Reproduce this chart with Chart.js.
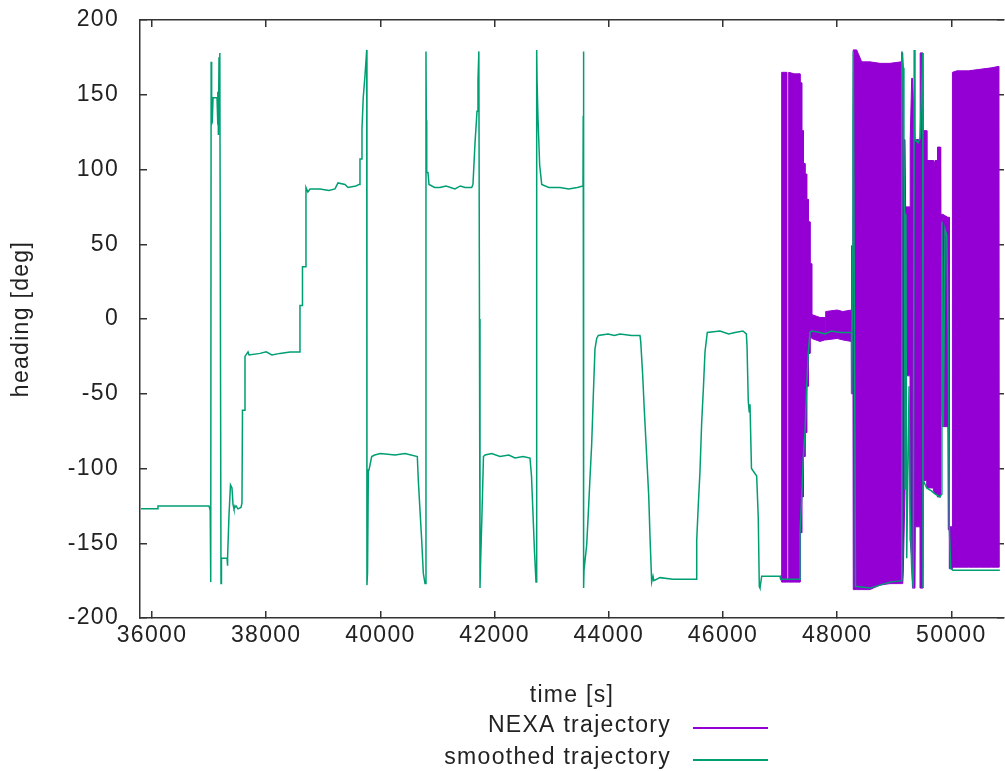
<!DOCTYPE html>
<html>
<head>
<meta charset="utf-8">
<title>heading vs time</title>
<script src="https://cdn.jsdelivr.net/npm/chart.js@4.4.1/dist/chart.umd.min.js"></script>
<style>
  html, body { margin: 0; padding: 0; background: #fff; }
  canvas { display: block; }
</style>
</head>
<body>
<canvas id="graphHeading" width="1005" height="771"></canvas>
<script>
// tick values of both axes
const timeTicks = [36000, 38000, 40000, 42000, 44000, 46000, 48000, 50000];
const headingTicks = [-200, -150, -100, -50, 0, 50, 100, 150, 200];

// smoothed trajectory: time [s] and heading [deg]
const smoothT = [35808, 36105, 36105, 36998, 37020, 37028, 37030, 37036, 37040, 37043, 37046, 37051, 37055, 37069, 37139, 37150, 37156, 37163, 37174, 37185, 37191, 37209, 37217, 37314, 37318, 37331, 37349, 37375, 37401, 37419, 37436, 37471, 37506, 37559, 37576, 37585, 37620, 37629, 37682, 37700, 37892, 38000, 38100, 38242, 38417, 38592, 38592, 38636, 38636, 38697, 38697, 38730, 38768, 38943, 39100, 39205, 39258, 39381, 39433, 39573, 39626, 39643, 39643, 39678, 39678, 39700, 39731, 39761, 39765, 39775, 39790, 39801, 39848, 39900, 40000, 40257, 40432, 40647, 40665, 40694, 40724, 40752, 40782, 40799, 40805, 40812, 40834, 40852, 40950, 41044, 41150, 41307, 41400, 41483, 41600, 41622, 41658, 41693, 41710, 41725, 41736, 41745, 41754, 41780, 41806, 41833, 41950, 42095, 42250, 42358, 42500, 42621, 42647, 42673, 42700, 42726, 42738, 42745, 42761, 42790, 42826, 42950, 43146, 43300, 43450, 43549, 43553, 43558, 43562, 43567, 43614, 43642, 43672, 43701, 43730, 43759, 43789, 43817, 43987, 44100, 44197, 44400, 44547, 44560, 44595, 44623, 44665, 44700, 44723, 44752, 44775, 44790, 44898, 45125, 45541, 45541, 45569, 45598, 45628, 45657, 45686, 45726, 45949, 46100, 46212, 46350, 46410, 46422, 46444, 46460, 46474, 46500, 46591, 46619, 46637, 46649, 46679, 47000, 47010, 47350, 47350, 47380, 47408, 47437, 47467, 47495, 47525, 47555, 47700, 47788, 47900, 48050, 48252, 48256, 48270, 48278, 48283, 48322, 48343, 48576, 48751, 48926, 49119, 49131, 49136, 49159, 49170, 49180, 49189, 49205, 49219, 49260, 49277, 49306, 49334, 49350, 49364, 49420, 49452, 49475, 49481, 49500, 49504, 49510, 49569, 49650, 49714, 49802, 49832, 49835, 49860, 49890, 49920, 49947, 49965, 49990, 50030, 50500, 50850];
const smoothH = [-127, -127, -125, -125, -128, -128, -176, 172, 130, 155, 131, 150, 131, 148, 148, 130, 152, 123, 175, 130, 178, -177, -160, -160, -165, -159, -131, -111, -113, -124, -127, -125, -127, -126, -123, -61, -61, -25, -22, -24, -23, -22, -24, -23, -22, -22, 9, 9, 35, 35, 88, 85, 87, 87, 86, 87, 91, 90, 88, 89, 90, 90, 107, 107, 127, 148, 163, 180, -178, -170, -101, -101, -92, -91, -90, -91, -90, -92, -108, -128, -148, -170, -177, 179, 133, 98, 98, 90, 88, 88, 89, 87, 89, 88, 88, 90, 118, 139, 160, 179, 0, -180, -165, -130, -92, -91, -90, -92, -91, -93, -92, -93, -105, -130, -156, -176, 180, 159, 134, 103, 90, 88, 88, 87, 88, 89, 136, 179, -180, -168, -151, -130, -106, -84, -51, -20, -13, -11, -10, -11, -10, -11, -11, -15, -38, -61, -92, -118, -146, -176, -172, -175, -173, -174, -174, -148, -124, -102, -69, -47, -22, -9, -8, -10, -9, -8, -10, -18, -55, -62, -57, -100, -105, -133, -179, -180, -172, -172, -174, -174, -143, -119, -92, -76, -45, -23, -9, -8, -9, -10, -8, -9, -9, -50, 49, 127, 179, -179, -179, -180, -178, -176, -175, -166, 179, 168, 120, 71, -114, 70, -160, -45, -126, -167, -180, 180, 120, 118, 121, 146, 146, 178, -180, -108, -113, -115, -117, -119, -117, 65, -72, 60, 56, -12, -139, -167, -168, -168, -168];

// NEXA trajectory swings fast between two bounds: upper and lower envelope
const nexaT  = [47000, 47029, 47029, 47117, 47117, 47152, 47152, 47250, 47350, 47350, 47380, 47380, 47408, 47408, 47437, 47437, 47467, 47467, 47495, 47495, 47525, 47525, 47555, 47555, 47700, 47785, 47785, 47800, 47800, 48000, 48100, 48250, 48254, 48278, 48283, 48343, 48431, 48576, 48751, 48926, 49119, 49131, 49150, 49159, 49189, 49200, 49277, 49280, 49306, 49320, 49364, 49370, 49452, 49455, 49504, 49510, 49569, 49572, 49685, 49690, 49714, 49755, 49758, 49810, 49814, 49850, 49940, 49947, 49965, 49968, 50015, 50020, 50100, 50300, 50500, 50700, 50835, 50840];
const nexaHi = [-172, -172, 165, 165, -174, -174, 165, 164, 164, 158, 158, 126, 126, 104, 104, 97, 97, 80, 80, 65, 65, 37, 37, 3, 1, 1, -9, -9, 5, 6, 5, 6, 49, 49, 180, 180, 172, 172, 171, 171, 172, 178, 178, 120, 120, 75, 75, 120, 161, 161, 120, 120, 120, 178, 178, 126, 126, 106, 106, 100, 106, 106, 115, 115, 70, 70, 68, 68, 68, -139, -139, 165, 166, 166, 167, 168, 169, -166];
const nexaLo = [-172, -176, -176, -176, -176, -176, -176, -176, -176, -143, -143, -119, -119, -92, -92, -76, -76, -45, -45, -23, -23, -12, -12, -13, -15, -14, -14, -14, -14, -13, -14, -15, -50, -50, -181, -181, -181, -181, -178, -177, -177, -177, -177, -170, -114, -38, -38, -148, -160, -180, -180, -139, -139, -180, -180, -108, -108, -113, -113, -115, -117, -117, -119, -119, -52, -72, -72, -141, -141, -167, -167, -166, -166, -166, -166, -166, -166, -166];

const legendNames = ['NEXA trajectory', 'smoothed trajectory'];
const legendColors = ['#9400d3', '#009e73'];

// points for Chart.js
const smoothPoints = smoothT.map((t, i) => ({ x: t, y: smoothH[i] }));
// closed shape: upper bound forward, lower bound back
const nexaPoints = nexaT.map((t, i) => ({ x: t, y: nexaHi[i] }))
  .concat(nexaT.map((t, i) => ({ x: t, y: nexaLo[i] })).reverse());

const textColor = '#222';
const frameColor = '#333';
const fontSize = 23;

function spacing(chart) {
  // gnuplot text is a bit wider spaced
  if ('letterSpacing' in chart.ctx) chart.ctx.letterSpacing = '1.3px';
}

// legend like gnuplot: text right aligned, line sample after it
const gnuLegend = {
  id: 'gnuLegend',
  beforeUpdate: spacing,
  beforeDraw: spacing,
  afterDraw(chart) {
    const ctx = chart.ctx;
    ctx.save();
    ctx.font = fontSize + 'px "Liberation Sans", Arial, sans-serif';
    ctx.fillStyle = textColor;
    ctx.textAlign = 'right';
    ctx.textBaseline = 'middle';
    legendNames.forEach((name, i) => {
      const y = 726 + i * 32;
      ctx.fillText(name, 671, y);
      ctx.strokeStyle = legendColors[i];
      ctx.lineWidth = 2;
      ctx.beginPath();
      ctx.moveTo(693, y + 2);
      ctx.lineTo(768, y + 2);
      ctx.stroke();
    });
    ctx.restore();
  }
};

Chart.defaults.font.family = '"Liberation Sans", Arial, sans-serif';
Chart.defaults.font.size = fontSize;
Chart.defaults.color = textColor;

const gridOpts = { drawOnChartArea: false, drawTicks: true, tickLength: -7, color: frameColor, lineWidth: 1.5 };
const borderOpts = { display: true, color: frameColor, width: 1.5 };

// fixed box sizes so the plot frame lands where the reference has it
function fixY(width) {
  return s => { s.width = width; s.paddingTop = 0; s.paddingBottom = 0; };
}
function fixX(height) {
  return s => { s.height = height; s.paddingLeft = 0; s.paddingRight = 0; };
}

const xMin = 35790;
const xMax = 50923;

new Chart(document.getElementById('graphHeading'), {
  type: 'scatter',
  data: {
    datasets: [{
      label: legendNames[1],
      data: smoothPoints,
      showLine: true,
      borderColor: legendColors[1],
      borderWidth: 1.5,
      pointRadius: 0,
      tension: 0,
      fill: false,
      order: 1
    }, {
      label: legendNames[0],
      data: nexaPoints,
      showLine: true,
      borderColor: legendColors[0],
      backgroundColor: legendColors[0],
      borderWidth: 1,
      pointRadius: 0,
      tension: 0,
      fill: 'shape',
      order: 2
    }]
  },
  options: {
    responsive: false,
    maintainAspectRatio: false,
    animation: false,
    events: [],
    layout: { padding: { top: 20, right: 0, bottom: 0, left: 0 } },
    scales: {
      x: {
        type: 'linear',
        position: 'bottom',
        min: xMin,
        max: xMax,
        afterBuildTicks: s => { s.ticks = timeTicks.map(v => ({ value: v })); },
        afterFit: fixX(153),
        ticks: { padding: 11, color: textColor, callback: v => String(v) },
        grid: gridOpts,
        border: borderOpts,
        title: { display: true, text: 'time [s]', color: textColor, padding: { top: 0, bottom: 62 } }
      },
      xTop: {
        type: 'linear',
        axis: 'x',
        position: 'top',
        min: xMin,
        max: xMax,
        afterBuildTicks: s => { s.ticks = timeTicks.map(v => ({ value: v })); },
        afterFit: fixX(0),
        ticks: { display: false },
        grid: gridOpts,
        border: borderOpts
      },
      y: {
        type: 'linear',
        position: 'left',
        min: -200,
        max: 200,
        afterBuildTicks: s => { s.ticks = headingTicks.map(v => ({ value: v })); },
        afterFit: fixY(140),
        ticks: { padding: 28, color: textColor, callback: v => String(v) },
        grid: gridOpts,
        border: borderOpts,
        title: { display: true, text: 'heading [deg]', color: textColor, padding: { top: 8, bottom: 0 } }
      },
      yRight: {
        type: 'linear',
        axis: 'y',
        position: 'right',
        min: -200,
        max: 200,
        afterBuildTicks: s => { s.ticks = headingTicks.map(v => ({ value: v })); },
        afterFit: fixY(1),
        ticks: { display: false },
        grid: gridOpts,
        // right frame line is cut off in the reference, only the ticks show
        border: { display: false }
      }
    },
    plugins: {
      legend: { display: false },
      tooltip: { enabled: false }
    }
  },
  plugins: [gnuLegend]
});
</script>
</body>
</html>
